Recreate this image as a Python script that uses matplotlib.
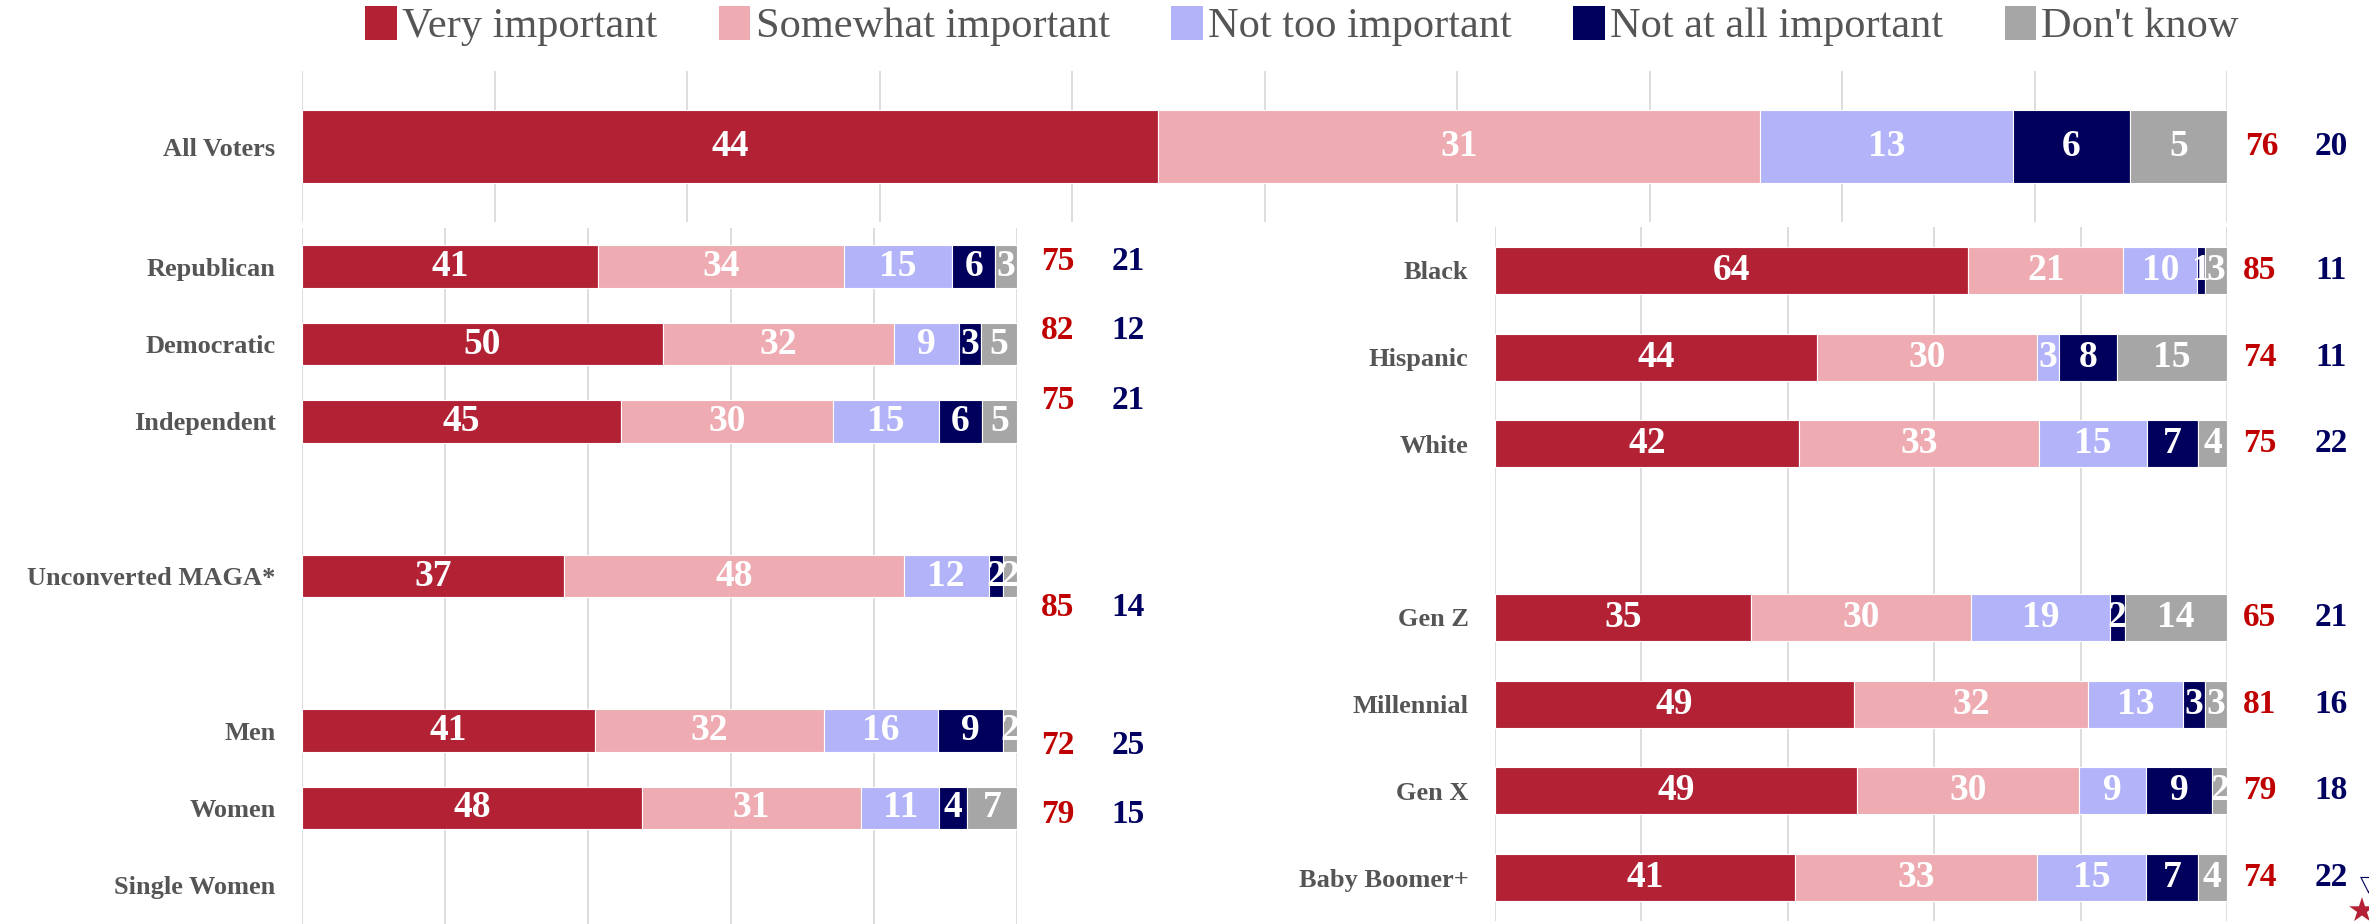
import numpy as np
import matplotlib.pyplot as plt
from matplotlib.patches import Patch

plt.rcParams['font.family'] = ['Liberation Serif', 'DejaVu Sans']

# ---- data ----
series = ['Very important', 'Somewhat important', 'Not too important',
          'Not at all important', "Don't know"]
colors = ['#B22234', '#EEABB1', '#B3B3FA', '#00005C', '#A6A6A6']

top_labels = ['All Voters']
top_vals = [[44], [31], [13], [6], [5]]
top_imp = [76]
top_not = [20]

left_labels = ['Republican', 'Democratic', 'Independent', '', 'Unconverted MAGA*',
               '', 'Men', 'Women', 'Single Women']
left_vals = [
    [41, 50, 45, None, 37, None, 41, 48, None],
    [34, 32, 30, None, 48, None, 32, 31, None],
    [15, 9, 15, None, 12, None, 16, 11, None],
    [6, 3, 6, None, 2, None, 9, 4, None],
    [3, 5, 5, None, 2, None, 2, 7, None],
]
left_imp = [75, 82, 75, 85, 72, 79]
left_not = [21, 12, 21, 14, 25, 15]

right_labels = ['Black', 'Hispanic', 'White', '', 'Gen Z', 'Millennial', 'Gen X',
                'Baby Boomer+']
right_vals = [
    [64, 44, 42, None, 35, 49, 49, 41],
    [21, 30, 33, None, 30, 32, 30, 33],
    [10, 3, 15, None, 19, 13, 9, 15],
    [1, 8, 7, None, 2, 3, 9, 7],
    [3, 15, 4, None, 14, 3, 2, 4],
]
right_imp = [85, 74, 75, None, 65, 81, 79, 74]
right_not = [11, 11, 22, None, 21, 16, 18, 22]

# ---- layout ----
W, H = 2369, 924
fig = plt.figure(figsize=(W / 100, H / 100), dpi=100)

def px_axes(x0, y0, x1, y1):
    return fig.add_axes([x0 / W, 1 - y1 / H, (x1 - x0) / W, (y1 - y0) / H])

label_col = '#555555'
red_num = '#C00000'
navy_num = '#000060'


def stacked(ax, labels, vals, height, grid_step):
    vals = np.array([[np.nan if v is None else v for v in row] for row in vals], float)
    totals = np.nansum(vals, axis=0)
    rows = np.arange(len(labels))
    has = totals > 0
    left = np.zeros(len(labels))
    for i in range(len(series)):
        pct = np.zeros(len(labels))
        pct[has] = vals[i][has] / totals[has] * 100
        ax.barh(rows[has], pct[has], left=left[has], height=height, color=colors[i],
                edgecolor='white', linewidth=0.8, zorder=2)
        for r in rows[has]:
            ax.text(left[r] + pct[r] / 2, r, '%d' % vals[i][r], ha='center',
                    va='center', color='white', fontsize=27, fontweight='bold',
                    zorder=3)
        left = left + pct
    ax.set_xlim(0, 100)
    ax.set_ylim(len(labels) - 0.5, -0.5)
    ax.set_yticks(rows)
    ax.set_yticklabels(labels, fontsize=19, fontweight='bold', color=label_col)
    ax.tick_params(axis='y', length=0, pad=19)
    ax.tick_params(axis='x', length=0, labelbottom=False)
    ax.set_xticks(np.arange(0, 101, grid_step))
    ax.grid(axis='x', color='#DDDDDD', linewidth=1.4, zorder=0)
    ax.set_axisbelow(True)
    for s in ax.spines.values():
        s.set_visible(False)


ax_top = px_axes(302, 71, 2227, 222)
stacked(ax_top, top_labels, top_vals, 0.48, 10)
for r, (a, b) in enumerate(zip(top_imp, top_not)):
    ax_top.text(101.8, r, str(a), ha='center', va='center', color=red_num,
                fontsize=24, fontweight='bold', clip_on=False)
    ax_top.text(105.4, r, str(b), ha='center', va='center', color=navy_num,
                fontsize=24, fontweight='bold', clip_on=False)

ax_left = px_axes(302, 228, 1017, 924)
stacked(ax_left, left_labels, left_vals, 0.556, 20)

# totals column on the left panel sits on its own row spacing
ax_lnum = px_axes(302, 228, 1017, 924)
ax_lnum.set_xlim(0, 100)
ax_lnum.set_ylim(9.58, -0.49)
ax_lnum.axis('off')
left_total_rows = [0, 1, 2, 5, 7, 8]
for r, a, b in zip(left_total_rows, left_imp, left_not):
    ax_lnum.text(105.7, r, str(a), ha='center', va='center', color=red_num,
                 fontsize=24, fontweight='bold', clip_on=False)
    ax_lnum.text(115.5, r, str(b), ha='center', va='center', color=navy_num,
                 fontsize=24, fontweight='bold', clip_on=False)

ax_right = px_axes(1495, 227, 2227, 921)
stacked(ax_right, right_labels, right_vals, 0.54, 20)
for r, (a, b) in enumerate(zip(right_imp, right_not)):
    if a is None:
        continue
    ax_right.text(104.5, r, str(a), ha='center', va='center', color=red_num,
                  fontsize=24, fontweight='bold', clip_on=False)
    ax_right.text(114.2, r, str(b), ha='center', va='center', color=navy_num,
                  fontsize=24, fontweight='bold', clip_on=False)

# legend
handles = [Patch(facecolor=c, edgecolor='none') for c in colors]
leg = fig.legend(handles, series, loc='center', bbox_to_anchor=(1302 / W, 1 - 26 / H),
                 ncol=5, frameon=False, fontsize=30.5, handlelength=0.75,
                 handleheight=0.85, handletextpad=0.12, columnspacing=1.45)
for t in leg.get_texts():
    t.set_color(label_col)

# small decorations in the bottom-right corner
fig.text(2362 / W, 1 - 912 / H, '\u2605', color='#B22234', fontsize=24,
         ha='center', va='center', family=['DejaVu Sans'])
fig.text(2368 / W, 1 - 884 / H, '\u25BD', color=navy_num, fontsize=16,
         ha='center', va='center', family=['DejaVu Sans'])

fig.savefig('out.png', dpi=100)
